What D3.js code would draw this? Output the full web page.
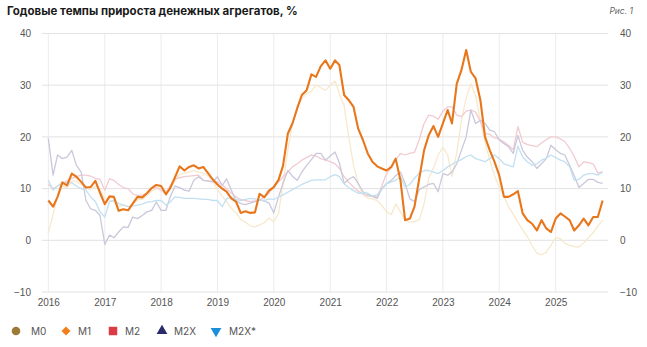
<!DOCTYPE html>
<html>
<head>
<meta charset="utf-8">
<script src="https://cdn.jsdelivr.net/npm/d3@7"></script>
<style>
  body { margin: 0; background: #fff; }
  svg { display: block; font-family: Inter, "Noto Sans", sans-serif; }
  .grid line { stroke: #e2e2e2; stroke-width: 1; }
  .vgrid line { stroke: #ececec; stroke-width: 1; }
  .tick-label { fill: #555; font-size: 10px; }
  .legend-label { fill: #555; font-size: 10px; }
</style>
</head>
<body>
<svg id="chart" width="647" height="347"></svg>
<script>
// monthly year-on-year growth, Jan 2016 .. Nov 2025
var startYear = 2016;
var yearTicks = [2016, 2017, 2018, 2019, 2020, 2021, 2022, 2023, 2024, 2025];
var yTicks = [-10, 0, 10, 20, 30, 40];

var m0 = [
  1.4, 5.0, 8.5, 10.5, 10.2, 11.5, 11.4, 10.8, 10.2, 9.8, 10.5, 9.8,
  8.0, 7.8, 7.5, 6.5, 6.8, 6.5, 7.0, 7.8, 7.9, 8.6, 9.5, 10.0,
  10.2, 9.5, 10.0, 11.5, 12.8, 13.0, 13.2, 13.5, 13.2, 13.0, 12.5, 11.5,
  9.8, 8.5, 7.5, 6.2, 5.3, 4.0, 3.5, 2.8, 2.6, 3.0, 3.4, 4.3,
  3.6, 5.2, 11.0, 17.4, 22.6, 26.0, 27.4, 28.4, 28.8, 30.0, 29.5, 29.0,
  30.0, 30.8, 28.4, 26.0, 20.0, 14.5, 11.0, 8.8, 8.2, 8.0, 7.7, 6.8,
  5.5, 5.0, 7.0, 5.5, 4.0, 3.5, 3.6, 4.0, 7.0, 12.0, 14.0, 16.5,
  18.0, 16.5, 12.3, 17.0, 23.2, 27.5, 30.3, 28.0, 23.0, 19.0, 15.5, 12.5,
  10.3, 8.5, 6.5, 5.0, 3.5, 2.0, 0.7, -1.0, -2.5, -2.8, -2.3, -1.0,
  0.5, 0.3, -0.6, -1.0, -1.2, -1.3, -0.5, 0.5, 1.5, 2.8, 3.9
];
var m1 = [
  7.7, 6.5, 8.4, 11.2, 10.6, 12.9, 12.3, 11.3, 10.2, 10.3, 11.5, 9.2,
  7.0, 8.5, 8.4, 5.7, 6.0, 5.8, 7.1, 8.4, 8.3, 9.1, 10.1, 10.7,
  10.5, 8.9, 10.1, 12.2, 14.3, 13.5, 14.2, 14.5, 13.9, 14.2, 13.0, 11.8,
  10.8, 10.0, 9.4, 8.1, 7.5, 5.3, 5.6, 5.3, 5.4, 9.0, 8.3, 9.6,
  10.3, 11.7, 14.4, 20.6, 22.6, 25.5, 28.1, 29.0, 32.1, 31.6, 33.7, 34.8,
  33.2, 34.8, 33.9, 28.1, 27.1, 25.8, 21.6, 19.4, 16.8, 15.2, 14.3, 13.9,
  13.5, 14.2, 15.8, 11.6, 3.9, 4.2, 6.5, 12.0, 17.4, 20.3, 22.1, 20.0,
  22.6, 25.2, 22.6, 30.3, 32.9, 36.8, 32.6, 31.3, 27.1, 20.0, 17.4, 15.2,
  12.6, 8.4, 8.4, 8.9, 9.5, 5.2, 3.9, 3.2, 1.9, 3.9, 2.3, 1.6,
  4.2, 5.2, 4.6, 3.9, 1.9, 2.9, 4.2, 2.9, 4.5, 4.5, 7.7
];
var m2 = [
  10.8, 10.0, 10.5, 11.0, 11.5, 12.0, 12.3, 12.6, 12.6, 12.4, 12.0, 11.8,
  9.7, 11.9, 11.6, 10.8, 10.2, 10.0, 9.0, 8.7, 8.8, 9.0, 10.0, 10.2,
  9.7, 9.0, 10.6, 11.9, 12.1, 12.3, 12.4, 12.5, 12.6, 11.6, 11.5, 11.3,
  11.3, 10.7, 10.0, 9.1, 8.4, 7.9, 7.7, 7.5, 7.6, 7.8, 8.4, 9.1,
  10.3, 11.3, 12.3, 13.2, 14.2, 14.8, 15.5, 16.0, 16.5, 16.3, 15.8, 15.5,
  15.2, 14.8, 13.9, 12.3, 11.2, 10.3, 9.5, 9.0, 8.6, 8.5, 8.4, 10.5,
  12.9, 14.0, 15.5, 16.8, 16.5, 16.8, 17.0, 19.5, 22.6, 24.2, 24.0, 23.4,
  25.0, 25.8, 25.8, 24.2, 23.9, 25.0, 25.2, 24.8, 23.0, 20.7, 20.5, 19.8,
  19.6, 19.0, 18.4, 17.5, 22.0, 19.0, 18.5, 18.3, 18.1, 18.8, 19.5, 20.0,
  20.0, 19.6, 19.1, 17.8, 16.2, 14.2, 15.2, 15.0, 14.8, 13.0, 13.3
];
var m2x = [
  19.7, 12.6, 16.5, 15.8, 16.1, 17.4, 14.5, 13.2, 7.7, 6.1, 5.8, 4.8,
  -0.8, 1.0, 0.5, 1.6, 2.6, 2.5, 4.5, 4.2, 4.8, 5.5, 5.8, 7.4,
  5.8, 5.8, 8.4, 10.5, 10.2, 9.7, 9.5, 11.6, 12.3, 11.6, 11.5, 11.3,
  12.3, 10.6, 11.9, 9.7, 7.7, 7.1, 6.9, 7.2, 7.5, 7.8, 7.6, 7.2,
  5.3, 8.4, 11.0, 13.5, 12.4, 11.6, 13.2, 14.5, 15.6, 16.8, 16.8, 15.5,
  16.3, 17.1, 15.0, 11.0, 11.8, 12.3, 11.0, 9.4, 8.9, 8.5, 8.1, 10.0,
  11.0, 11.6, 12.5, 13.2, 11.0, 8.0, 7.5, 9.8, 10.3, 10.8, 11.0, 9.4,
  12.9, 12.6, 13.2, 14.8, 17.4, 20.0, 25.2, 22.6, 23.2, 22.6, 21.3, 21.0,
  19.4, 18.7, 18.1, 16.8, 20.3, 17.4, 16.1, 15.2, 13.9, 14.8, 15.8, 18.4,
  17.5, 16.8, 16.5, 14.5, 12.5, 10.2, 11.0, 11.8, 11.8, 11.2, 11.0
];
var m2xStar = [
  11.6, 9.7, 10.5, 11.0, 11.1, 11.1, 10.5, 10.0, 9.7, 8.4, 7.5, 5.5,
  4.5, 7.5, 7.7, 7.1, 6.8, 6.5, 6.6, 6.8, 7.0, 7.4, 7.5, 7.7,
  7.7, 6.8, 7.4, 8.4, 8.3, 8.1, 8.1, 8.1, 8.0, 7.9, 7.9, 7.7,
  7.7, 6.5, 8.0, 8.4, 7.9, 7.7, 7.9, 8.1, 8.0, 7.8, 7.7, 8.0,
  7.9, 8.4, 8.8, 9.3, 9.8, 10.3, 10.8, 11.2, 11.6, 11.7, 11.7, 11.7,
  12.3, 12.7, 12.3, 10.9, 10.2, 9.6, 9.1, 9.1, 9.1, 8.6, 8.8, 9.8,
  10.9, 11.3, 11.6, 12.2, 10.3, 10.8, 12.0, 13.0, 13.5, 13.5, 13.2, 12.9,
  13.5, 14.2, 14.7, 15.2, 15.6, 16.2, 16.5, 15.8, 15.5, 15.2, 15.8, 16.5,
  15.8, 14.8, 14.5, 14.2, 18.2, 16.1, 15.2, 14.5, 14.8, 15.5, 15.9, 16.5,
  16.0, 15.5, 15.2, 14.2, 11.6, 11.8, 12.6, 12.9, 12.9, 12.6, 13.2
];

var seriesNames = ['M0', 'M1', 'M2', 'M2X', 'M2X*'];
var seriesData = [m0, m1, m2, m2x, m2xStar];
var legendColors = ['#9c7b38', '#f07f1c', '#dc3a44', '#2b2b6b', '#1b8fd8'];
// only M1 is highlighted, the rest are drawn faded
var lineColors = ['#f8e8cc', '#e8761b', '#f2cbd2', '#cac8da', '#c2e0f2'];
var lineWidths = [1.3, 2.1, 1.3, 1.3, 1.3];

var svg = d3.select('#chart');

var x = d3.scaleTime()
    .domain([new Date(2016, 0, 1), new Date(2025, 0, 1)])
    .range([48.3, 555.7]);

var y = d3.scaleLinear()
    .domain([-10, 40])
    .range([292, 33.5]);

var gridLeft = 42, gridRight = 608;

// title
svg.append('text')
    .attr('x', 7)
    .attr('y', 15)
    .attr('font-size', '11.5px')
    .attr('font-weight', 700)
    .attr('fill', '#1a1a1a')
    .text('Годовые темпы прироста денежных агрегатов, %');

svg.append('text')
    .attr('x', 633)
    .attr('y', 14)
    .attr('text-anchor', 'end')
    .attr('font-size', '8.5px')
    .attr('font-style', 'italic')
    .attr('fill', '#666')
    .text('Рис. 1');

// vertical grid at each year
svg.append('g')
    .attr('class', 'vgrid')
    .selectAll('line')
    .data(yearTicks)
    .enter()
    .append('line')
    .attr('x1', function(d) { return x(new Date(d, 0, 1)); })
    .attr('x2', function(d) { return x(new Date(d, 0, 1)); })
    .attr('y1', y(40))
    .attr('y2', y(-10));

// horizontal grid
svg.append('g')
    .attr('class', 'grid')
    .selectAll('line')
    .data(yTicks)
    .enter()
    .append('line')
    .attr('x1', gridLeft)
    .attr('x2', gridRight)
    .attr('y1', function(d) { return y(d); })
    .attr('y2', function(d) { return y(d); });

// y labels on both sides
var yLeft = d3.axisLeft(y).tickValues(yTicks).tickSize(0).tickPadding(0);
svg.append('g')
    .attr('transform', 'translate(31,0)')
    .call(yLeft)
    .call(function(g) { g.select('.domain').remove(); })
    .selectAll('text')
    .attr('class', 'tick-label')
    .attr('font-family', null)
    .attr('font-size', null);

var yRight = d3.axisRight(y).tickValues(yTicks).tickSize(0).tickPadding(0);
svg.append('g')
    .attr('transform', 'translate(620,0)')
    .call(yRight)
    .call(function(g) { g.select('.domain').remove(); })
    .selectAll('text')
    .attr('class', 'tick-label')
    .attr('font-family', null)
    .attr('font-size', null);

// x labels
var xAxis = d3.axisBottom(x)
    .tickValues(yearTicks.map(function(d) { return new Date(d, 0, 1); }))
    .tickFormat(d3.timeFormat('%Y'))
    .tickSize(0)
    .tickPadding(0);
svg.append('g')
    .attr('transform', 'translate(0,299)')
    .call(xAxis)
    .call(function(g) { g.select('.domain').remove(); })
    .selectAll('text')
    .attr('class', 'tick-label')
    .attr('font-family', null)
    .attr('font-size', null);

// lines
var line = d3.line()
    .x(function(d, i) { return x(new Date(startYear, i, 1)); })
    .y(function(d) { return y(d); });

var drawOrder = [0, 2, 3, 4, 1];
svg.append('g')
    .selectAll('path')
    .data(drawOrder)
    .enter()
    .append('path')
    .attr('d', function(k) { return line(seriesData[k]); })
    .attr('fill', 'none')
    .attr('stroke', function(k) { return lineColors[k]; })
    .attr('stroke-width', function(k) { return lineWidths[k]; })
    .attr('stroke-linejoin', 'round');

// legend
var legendX = [16, 66, 113, 162, 216];
var symbols = [d3.symbolCircle, d3.symbolSquare, d3.symbolSquare, d3.symbolTriangle, d3.symbolTriangle];
var symbolSizes = [58, 40, 72, 50, 50];
var symbolRotate = [0, 45, 0, 0, 180];
var legend = svg.append('g')
    .attr('transform', 'translate(0,331)');

var items = legend.selectAll('g')
    .data(seriesNames)
    .enter()
    .append('g')
    .attr('transform', function(d, i) { return 'translate(' + legendX[i] + ',0)'; });

items.append('path')
    .attr('d', function(d, i) { return d3.symbol().type(symbols[i]).size(symbolSizes[i])(); })
    .attr('transform', function(d, i) { return 'rotate(' + symbolRotate[i] + ')'; })
    .attr('fill', function(d, i) { return legendColors[i]; });

items.append('text')
    .attr('class', 'legend-label')
    .attr('x', function(d, i) { return i === 4 ? 13 : (i === 0 ? 15 : 12); })
    .attr('dy', '0.35em')
    .text(function(d) { return d; });
</script>
</body>
</html>
